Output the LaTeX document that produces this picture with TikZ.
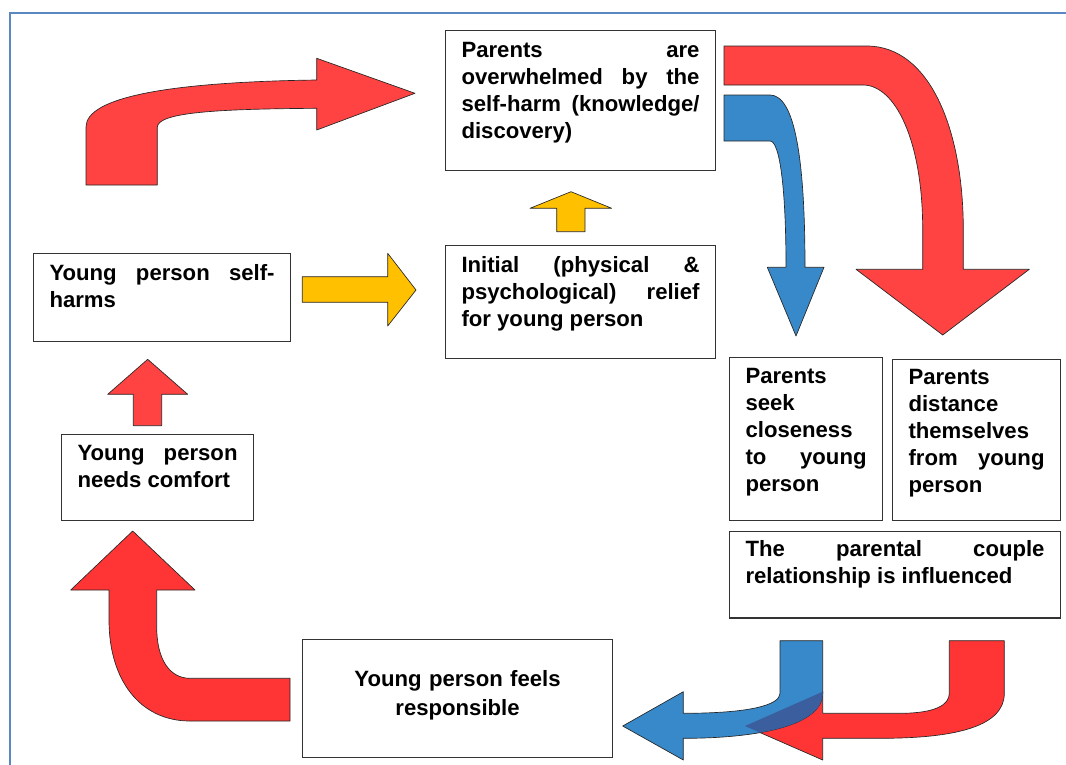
\documentclass[tikz,border=0pt]{standalone}
\usepackage{fontspec}
\setmainfont{Liberation Sans}
\definecolor{arrowred}{HTML}{FF4242}
\definecolor{arrowredb}{HTML}{FF3535}
\definecolor{arrowblue}{HTML}{3889C9}
\definecolor{arrowgold}{HTML}{FFC000}
\definecolor{overlapblue}{HTML}{3A5E9E}
\definecolor{frameblue}{HTML}{5B87C2}
\tikzstyle{box}=[draw=black!80,line width=0.8pt,rectangle,anchor=north west,inner xsep=12pt,inner ysep=0pt,align=justify,font=\bfseries\fontsize{16.6}{20.25}\selectfont]
\tikzstyle{barrow}=[draw=black!85,line width=0.5pt,line join=round]
\tolerance=10000
\hbadness=10000
\hyphenpenalty=10000
% paths of the two bottom arrows, used again for their overlap
\newcommand{\redback}{(949.3,640.7) -- (1004.3,640.7) -- (1004.3,693.3) .. controls (1004.3,725) and (960,738.3) .. (880,738.3) -- (822.7,738.3) -- (822.7,760) -- (745,726) -- (822.7,691.7) -- (822.7,713.3) -- (900,713.3) .. controls (935,713.3) and (949.3,705) .. (949.3,693.3) -- cycle}
\newcommand{\blueback}{(780,640.7) -- (822.7,640.7) -- (822.7,693.3) .. controls (822.7,725) and (760,738.3) .. (683.3,738.3) -- (683.3,760) -- (622.7,726) -- (683.3,691.7) -- (683.3,713.3) .. controls (750,713.3) and (780,705) .. (780,693.3) -- cycle}
\begin{document}
\begin{tikzpicture}[x=0.75pt,y=-0.75pt]
    \useasboundingbox (0,0) rectangle (1066,764);
    \draw[frameblue,line width=1.5pt] (10,780) -- (10,12.5) -- (1080,12.5);
    % boxes
    \node[box,text width=178.5pt,text height=20.25pt,text depth=84.75pt] (over) at (445,30) {Parents are\linebreak overwhelmed by the\linebreak self-harm (knowledge/\linebreak discovery)};
    \node[box,text width=178.5pt,text height=20.25pt,text depth=64.5pt] (relief) at (445,245) {Initial (physical \&\linebreak psychological) relief\linebreak for young person};
    \node[box,text width=168.75pt,text height=20.25pt,text depth=45.75pt] (harms) at (33,253) {Young person self-\linebreak harms};
    \node[box,text width=120pt,text height=19.5pt,text depth=45pt] (comfort) at (61,434) {Young person\linebreak needs comfort};
    \node[box,align=center,text width=208.5pt,text height=35.5pt,text depth=53pt,font=\bfseries\fontsize{16.6}{21.2}\selectfont] (resp) at (302,639) {Young person feels\\responsible};
    \node[box,text width=90.75pt,text height=19.5pt,text depth=102.75pt] (seek) at (729,357) {Parents\linebreak seek\linebreak closeness\linebreak to young\linebreak person};
    \node[box,text width=102pt,text height=18.75pt,text depth=102pt] (distance) at (892,359) {Parents\linebreak distance\linebreak themselves\linebreak from young\linebreak person};
    \node[box,text width=224.25pt,text height=18.75pt,text depth=46.1pt] (couple) at (729,531) {The parental couple\linebreak relationship is influenced};
    % block arrows
    \draw[barrow,fill=arrowred] (86,185) -- (86,127) .. controls (86,97) and (170,82) .. (316.7,80) -- (316.7,58.3) -- (415,93.3) -- (316.7,130) -- (316.7,108.3) .. controls (220,109) and (157.3,112) .. (157.3,127.3) -- (157.3,185) -- cycle;
    \draw[barrow,fill=arrowred] (724,46) -- (866.7,46) .. controls (930,46) and (963.3,130) .. (963.3,230) -- (963.3,269.3) -- (1029.3,269.3) -- (942.7,335) -- (856,269.3) -- (922.7,269.3) -- (922.7,230) .. controls (922.7,140) and (895,85) .. (863,85) -- (724,85) -- cycle;
    \draw[barrow,fill=arrowblue] (724,95) -- (770,95) .. controls (795,95) and (805,160) .. (805,267.3) -- (824,267.3) -- (796,336) -- (767.3,267.3) -- (786,267.3) .. controls (786,190) and (780,141) .. (770,141) -- (724,141) -- cycle;
    \draw[barrow,fill=arrowgold] (556.7,231.7) -- (556.7,208.3) -- (530,208.3) -- (571,191.7) -- (611.7,208.3) -- (585,208.3) -- (585,231.7) -- cycle;
    \draw[barrow,fill=arrowgold] (302.3,276.7) -- (387.7,276.7) -- (387.7,253.3) -- (416,290) -- (387.7,326) -- (387.7,302.3) -- (302.3,302.3) -- cycle;
    \draw[barrow,fill=arrowred] (133.3,425.7) -- (133.3,394.3) -- (107.7,394.3) -- (147.7,359.3) -- (187.7,394.3) -- (161.7,394.3) -- (161.7,425.7) -- cycle;
    \draw[barrow,fill=arrowredb] (290,721) -- (190,721) .. controls (140,721) and (109,680) .. (109,620) -- (109,590) -- (70.7,590) -- (132.7,531) -- (195,590) -- (156.7,590) -- (156.7,626.7) .. controls (156.7,660) and (170,678.3) .. (190,678.3) -- (290,678.3) -- cycle;
    \draw[barrow,fill=arrowredb] \redback;
    \draw[barrow,fill=arrowblue] \blueback;
    \begin{scope}
        \clip \redback;
        \fill[overlapblue] \blueback;
    \end{scope}
\end{tikzpicture}
\end{document}
